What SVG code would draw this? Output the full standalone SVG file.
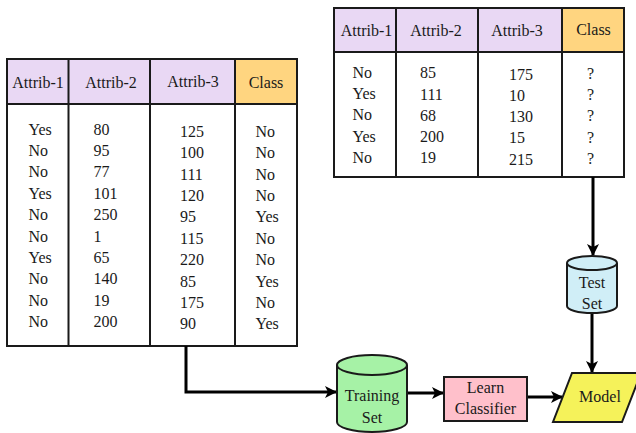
<svg xmlns="http://www.w3.org/2000/svg" width="636" height="433" viewBox="0 0 636 433">
<style>
text{font-family:"Liberation Serif","Times New Roman",serif;font-size:16px;fill:#1a1a1a}
.c{text-anchor:middle}
.tb{fill:#fff;stroke:#1a1a1a;stroke-width:2}
.hd{fill:#E9D8F4;stroke:#1a1a1a;stroke-width:2}
.cl{fill:#FFD580;stroke:#1a1a1a;stroke-width:2}
.ln{stroke:#1a1a1a;stroke-width:2;fill:none}
.sh{stroke:#1a1a1a;stroke-width:2}
.cn{stroke:#000;stroke-width:3;fill:none}
</style>
<defs>
<marker id="ah" viewBox="0 0 12 12" refX="11" refY="6" markerWidth="12" markerHeight="12" markerUnits="userSpaceOnUse" orient="auto">
<path d="M0 0 L12 6 L0 12 L3 6 Z" fill="#000"/>
</marker>
</defs>

<g id="training-table">
<rect class="tb" x="7" y="59" width="290" height="287"/>
<rect class="hd" x="7" y="59" width="228" height="45"/>
<rect class="cl" x="235" y="59" width="62" height="45"/>
<line class="ln" x1="68.5" y1="59" x2="68.5" y2="346"/>
<line class="ln" x1="150" y1="59" x2="150" y2="346"/>
<line class="ln" x1="235" y1="59" x2="235" y2="346"/>
<text class="c" x="38" y="87.5">Attrib-1</text>
<text class="c" x="111" y="87.5">Attrib-2</text>
<text class="c" x="193" y="86.5">Attrib-3</text>
<text class="c" x="266" y="87.5">Class</text>
<g>
<text x="28.5" y="134.5">Yes</text><text x="28.5" y="155.9">No</text><text x="28.5" y="177.3">No</text><text x="28.5" y="198.7">Yes</text><text x="28.5" y="220.1">No</text><text x="28.5" y="241.5">No</text><text x="28.5" y="262.9">Yes</text><text x="28.5" y="284.3">No</text><text x="28.5" y="305.7">No</text><text x="28.5" y="327.1">No</text>
</g>
<g>
<text x="93.5" y="134.5">80</text><text x="93.5" y="155.9">95</text><text x="93.5" y="177.3">77</text><text x="93.5" y="198.7">101</text><text x="93.5" y="220.1">250</text><text x="93.5" y="241.5">1</text><text x="93.5" y="262.9">65</text><text x="93.5" y="284.3">140</text><text x="93.5" y="305.7">19</text><text x="93.5" y="327.1">200</text>
</g>
<g>
<text x="180" y="136.7">125</text><text x="180" y="158.1">100</text><text x="180" y="179.5">111</text><text x="180" y="200.9">120</text><text x="180" y="222.3">95</text><text x="180" y="243.7">115</text><text x="180" y="265.1">220</text><text x="180" y="286.5">85</text><text x="180" y="307.9">175</text><text x="180" y="329.3">90</text>
</g>
<g>
<text x="255.5" y="136.7">No</text><text x="255.5" y="158.1">No</text><text x="255.5" y="179.5">No</text><text x="255.5" y="200.9">No</text><text x="255.5" y="222.3">Yes</text><text x="255.5" y="243.7">No</text><text x="255.5" y="265.1">No</text><text x="255.5" y="286.5">Yes</text><text x="255.5" y="307.9">No</text><text x="255.5" y="329.3">Yes</text>
</g>
</g>

<g id="test-table">
<rect class="tb" x="334" y="8" width="290" height="169"/>
<rect class="hd" x="334" y="8" width="228" height="44"/>
<rect class="cl" x="562" y="8" width="62" height="44"/>
<line class="ln" x1="396" y1="8" x2="396" y2="177"/>
<line class="ln" x1="478" y1="8" x2="478" y2="177"/>
<line class="ln" x1="562" y1="8" x2="562" y2="177"/>
<text class="c" x="366.5" y="36">Attrib-1</text>
<text class="c" x="436" y="36">Attrib-2</text>
<text class="c" x="517" y="35.5">Attrib-3</text>
<text class="c" x="593.5" y="35">Class</text>
<g>
<text x="352.5" y="78">No</text><text x="352.5" y="99.2">Yes</text><text x="352.5" y="120.4">No</text><text x="352.5" y="141.6">Yes</text><text x="352.5" y="162.8">No</text>
</g>
<g>
<text x="420" y="78.3">85</text><text x="420" y="99.5">111</text><text x="420" y="120.7">68</text><text x="420" y="141.9">200</text><text x="420" y="163.1">19</text>
</g>
<g>
<text x="509" y="79.8">175</text><text x="509" y="101">10</text><text x="509" y="122.2">130</text><text x="509" y="143.4">15</text><text x="509" y="164.6">215</text>
</g>
<g>
<text x="587" y="79">?</text><text x="587" y="100.2">?</text><text x="587" y="121.4">?</text><text x="587" y="142.6">?</text><text x="587" y="163.8">?</text>
</g>
</g>

<g id="connectors">
<path class="cn" d="M186 346 V392 H336" marker-end="url(#ah)"/>
<path class="cn" d="M407 393 H443" marker-end="url(#ah)"/>
<path class="cn" d="M527 397 H562" marker-end="url(#ah)"/>
<path class="cn" d="M593 177 V255" marker-end="url(#ah)"/>
<path class="cn" d="M592 313 V372" marker-end="url(#ah)"/>
</g>

<g id="training-set">
<path class="sh" fill="#A6F2A6" d="M337 365 A35 10 0 0 1 407 365 V422 A35 10 0 0 1 337 422 Z"/>
<path class="ln" d="M337 365 A35 10 0 0 0 407 365"/>
<text class="c" x="372" y="401">Training</text>
<text class="c" x="372" y="423">Set</text>
</g>

<g id="learn-classifier">
<rect class="sh" fill="#FFC0CB" x="444" y="377" width="83" height="44"/>
<text class="c" x="485.5" y="393">Learn</text>
<text class="c" x="485.5" y="414">Classifier</text>
</g>

<g id="test-set">
<path class="sh" fill="#D0EEF7" d="M567 263 A25 7 0 0 1 617 263 V306 A25 7 0 0 1 567 306 Z"/>
<path class="ln" d="M567 263 A25 7 0 0 0 617 263"/>
<text class="c" x="592" y="287.5">Test</text>
<text class="c" x="592" y="308.5">Set</text>
</g>

<g id="model">
<path class="sh" fill="#F5F25A" d="M572 373 L641 373 L622 422 L553 422 Z"/>
<text class="c" x="600" y="401.5">Model</text>
</g>
</svg>
